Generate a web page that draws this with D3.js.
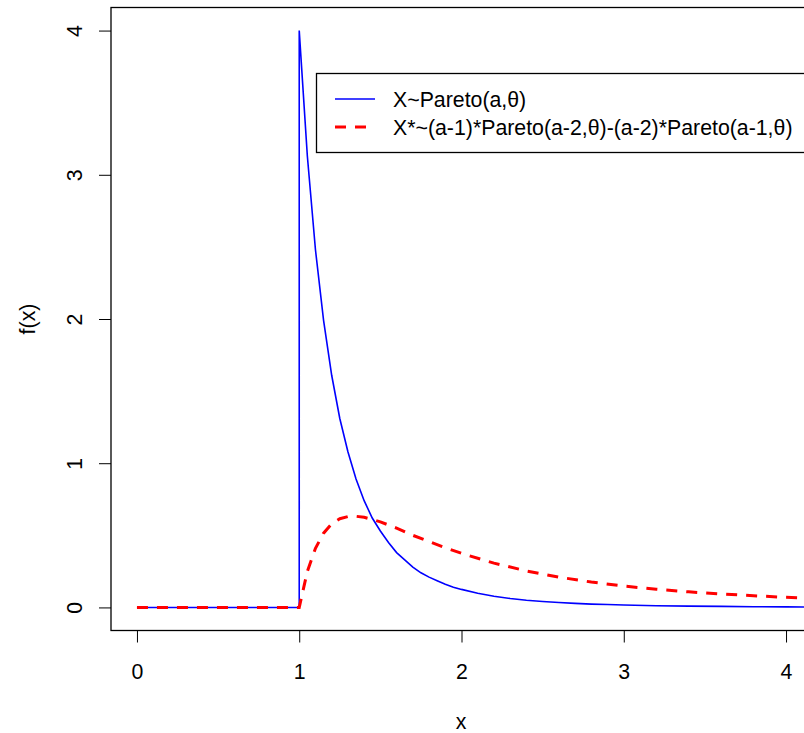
<!DOCTYPE html>
<html>
<head>
<meta charset="utf-8">
<script src="https://cdn.jsdelivr.net/npm/d3@7/dist/d3.min.js"></script>
<style>
html,body{margin:0;padding:0;background:#fff;}
svg{display:block;}
text{font-family:"Liberation Sans",Arial,Helvetica,sans-serif;fill:#000;}
</style>
</head>
<body>
<svg id="chart" width="804" height="733"></svg>
<script>
// Values
const blueX = [0, 1, 1, 1.05, 1.10, 1.15, 1.20, 1.25, 1.30, 1.35, 1.40, 1.45, 1.50, 1.55, 1.60, 1.65, 1.70, 1.75, 1.80, 1.85, 1.90, 1.95, 2.0, 2.1, 2.2, 2.3, 2.4, 2.5, 2.6, 2.7, 2.8, 2.9, 3.0, 3.2, 3.4, 3.6, 3.8, 4.0, 4.2];
const blueY = [0, 0, 4.0, 3.13, 2.48, 1.99, 1.61, 1.31, 1.08, 0.89, 0.74, 0.62, 0.53, 0.45, 0.38, 0.33, 0.28, 0.24, 0.21, 0.185, 0.16, 0.14, 0.125, 0.098, 0.078, 0.062, 0.050, 0.041, 0.034, 0.028, 0.023, 0.020, 0.017, 0.012, 0.009, 0.007, 0.005, 0.004, 0.003];
const redX = [0, 1, 1.05, 1.10, 1.15, 1.20, 1.25, 1.30, 1.35, 1.40, 1.45, 1.50, 1.6, 1.7, 1.8, 1.9, 2.0, 2.2, 2.4, 2.6, 2.8, 3.0, 3.2, 3.4, 3.6, 3.8, 4.0, 4.2];
const redY = [0, 0, 0.25, 0.41, 0.515, 0.58, 0.615, 0.63, 0.632, 0.625, 0.61, 0.593, 0.55, 0.50, 0.457, 0.414, 0.375, 0.307, 0.253, 0.21, 0.176, 0.148, 0.126, 0.108, 0.093, 0.081, 0.070, 0.062];
const xTicks = [0, 1, 2, 3, 4];
const yTicks = [0, 1, 2, 3, 4];
const legendLabels = ["X~Pareto(a,\u03b8)", "X*~(a-1)*Pareto(a-2,\u03b8)-(a-2)*Pareto(a-1,\u03b8)"];
const xLabel = "x";
const yLabel = "f(x)";

const svg = d3.select("#chart");
const L = 111, R = 812, T = 7.5, B = 630.5;
const x = d3.scaleLinear().domain([-0.16, 4.16]).range([L, R]);
const y = d3.scaleLinear().domain([-0.16, 4.16]).range([B, T]);
const FS = 21.3;

svg.append("defs").append("clipPath").attr("id","clip")
  .append("rect").attr("x", L).attr("y", T).attr("width", R - L).attr("height", B - T);

// x axis
const xAxis = svg.append("g").attr("transform", `translate(0,${B})`)
  .call(d3.axisBottom(x).tickValues(xTicks).tickSize(12).tickPadding(0).tickFormat(d3.format("d")));
xAxis.select(".domain").remove();
xAxis.selectAll(".tick line").attr("stroke", "#000");
xAxis.selectAll(".tick text").attr("font-size", FS).attr("dy", null).attr("y", 48)
  .style("font-family", '"Liberation Sans",Arial,sans-serif').attr("fill", "#000");

// y axis
const yAxis = svg.append("g").attr("transform", `translate(${L},0)`)
  .call(d3.axisLeft(y).tickValues(yTicks).tickSize(12).tickPadding(0).tickFormat(d3.format("d")));
yAxis.select(".domain").remove();
yAxis.selectAll(".tick line").attr("stroke", "#000");
yAxis.selectAll(".tick text").attr("font-size", FS)
  .attr("x", null).attr("dy", null)
  .attr("text-anchor", "middle")
  .attr("transform", "translate(-29,0) rotate(-90)")
  .style("font-family", '"Liberation Sans",Arial,sans-serif').attr("fill", "#000");

// axis labels
svg.append("text").attr("x", 461).attr("y", 729)
  .attr("text-anchor", "middle").attr("font-size", FS).text(xLabel);
svg.append("text").attr("transform", `translate(35,${(T + B) / 2}) rotate(-90)`)
  .attr("text-anchor", "middle").attr("font-size", FS).text(yLabel);

// lines
const line = d3.line().x(d => x(d[0])).y(d => y(d[1]));
const g = svg.append("g").attr("clip-path", "url(#clip)");
g.append("path").datum(blueX.map((v, i) => [v, blueY[i]]))
  .attr("d", line).attr("fill", "none").attr("stroke", "#0000ff").attr("stroke-width", 1.6);
g.append("path").datum(redX.map((v, i) => [v, redY[i]]))
  .attr("d", line).attr("fill", "none").attr("stroke", "#ff0000").attr("stroke-width", 3)
  .attr("stroke-dasharray", "11,9");

// box
svg.append("rect").attr("x", L).attr("y", T).attr("width", R - L).attr("height", B - T)
  .attr("fill", "none").attr("stroke", "#000").attr("stroke-width", 1.3);

// legend
const lg = svg.append("g");
lg.append("rect").attr("x", 316.5).attr("y", 73.5).attr("width", 500).attr("height", 79)
  .attr("fill", "#fff").attr("stroke", "#000").attr("stroke-width", 1.3);
const legStyles = [
  {color: "#0000ff", w: 1.6, dash: null},
  {color: "#ff0000", w: 3, dash: "11,9"}
];
legendLabels.forEach((lab, i) => {
  const yy = 99 + i * 28;
  lg.append("line").attr("x1", 335).attr("x2", 375).attr("y1", yy).attr("y2", yy)
    .attr("stroke", legStyles[i].color).attr("stroke-width", legStyles[i].w)
    .attr("stroke-dasharray", legStyles[i].dash);
  lg.append("text").attr("x", 393).attr("y", yy + 7.5).attr("font-size", FS).text(lab);
});
</script>
</body>
</html>
